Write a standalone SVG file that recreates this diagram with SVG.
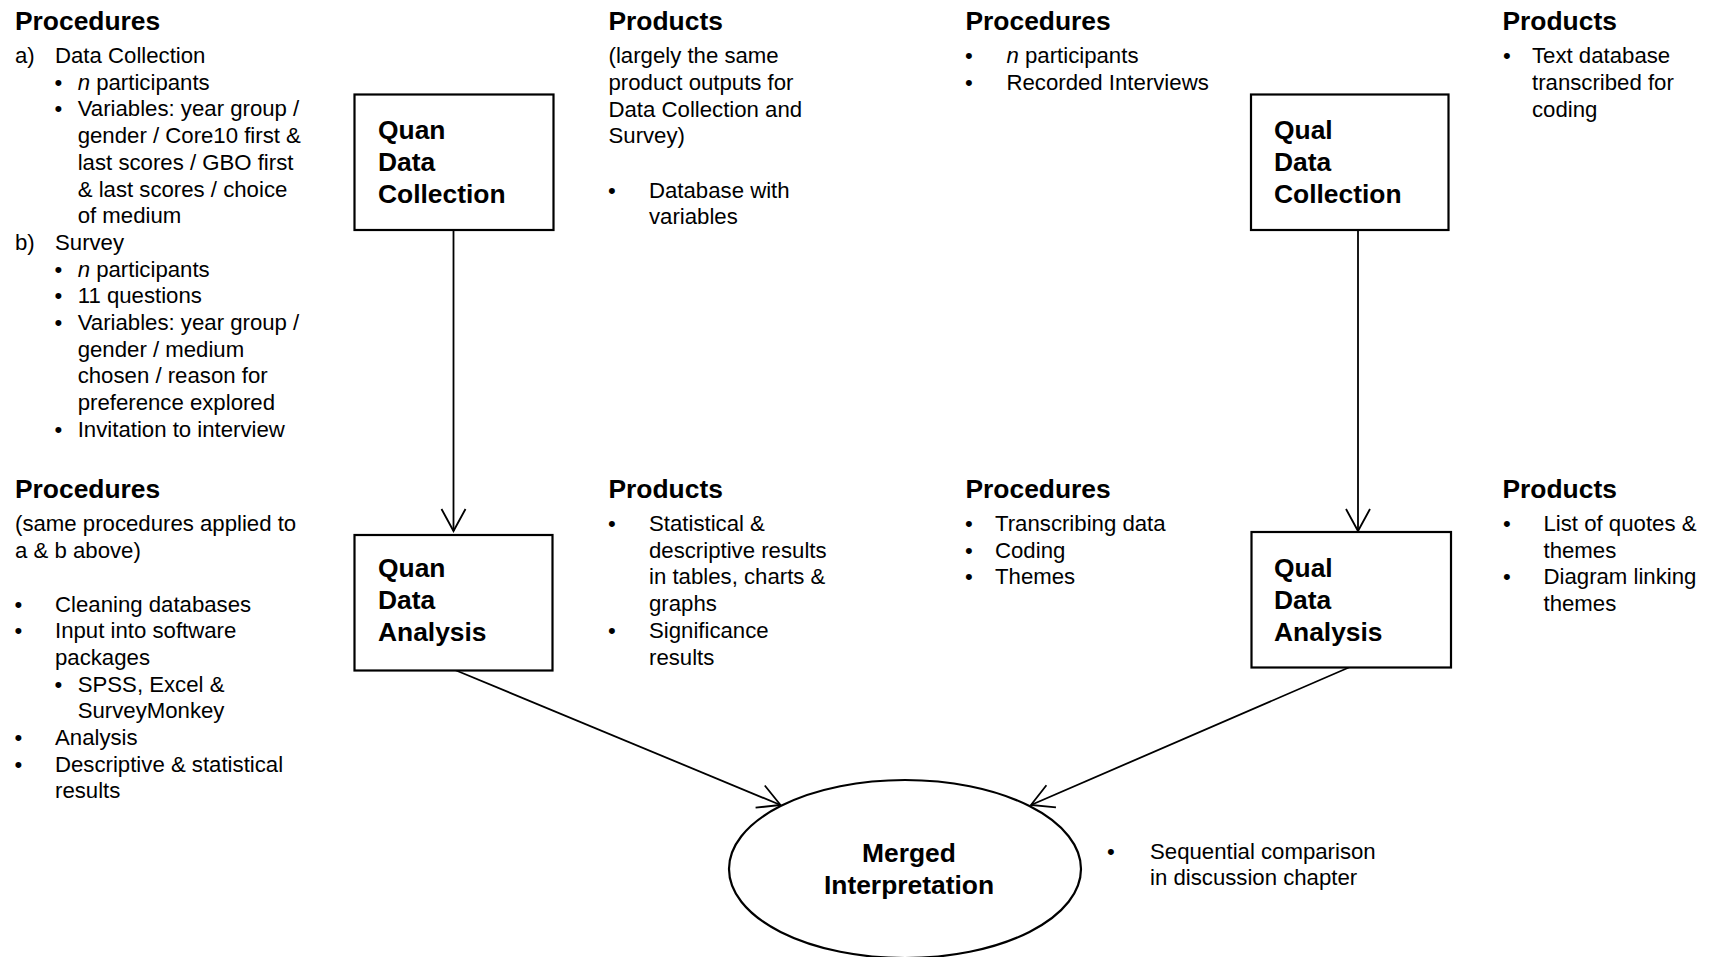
<svg xmlns="http://www.w3.org/2000/svg" width="1709" height="957" viewBox="0 0 1709 957">
<defs>
<style>
text{font-family:"Liberation Sans",Arial,sans-serif;fill:#000}
.h{font-size:26.4px;font-weight:bold}
.t{font-size:22.2px}
.b{font-size:22.2px;text-anchor:middle}
.lbl{font-size:26.4px;font-weight:bold}
.box{fill:#fff;stroke:#000;stroke-width:2.2}
.conn{stroke:#000;stroke-width:1.8;fill:none}
</style>
<marker id="arr" markerUnits="userSpaceOnUse" viewBox="-26 -15 30 30" markerWidth="30" markerHeight="30" refX="0" refY="0" orient="auto" overflow="visible">
<path d="M-22,-12 L0,0 L-22,12" fill="none" stroke="#000" stroke-width="1.8"/>
</marker>
</defs>
<rect width="1709" height="957" fill="#fff"/>

<g id="connectors">
<line class="conn" x1="453.5" y1="230" x2="453.5" y2="531" marker-end="url(#arr)"/>
<line class="conn" x1="1358" y1="230" x2="1358" y2="531" marker-end="url(#arr)"/>
<line class="conn" x1="455" y1="670" x2="780.5" y2="805" marker-end="url(#arr)"/>
<line class="conn" x1="1350" y1="667" x2="1031" y2="805" marker-end="url(#arr)"/>
</g>

<g id="quan-collection">
<rect class="box" x="354.5" y="94.5" width="199" height="135.5"/>
<text class="lbl" x="378" y="138.5">Quan</text>
<text class="lbl" x="378" y="170.5">Data</text>
<text class="lbl" x="378" y="202.5">Collection</text>
</g>
<g id="quan-analysis">
<rect class="box" x="354.5" y="535" width="198" height="135.5"/>
<text class="lbl" x="378" y="576.5">Quan</text>
<text class="lbl" x="378" y="608.5">Data</text>
<text class="lbl" x="378" y="640.5">Analysis</text>
</g>
<g id="qual-collection">
<rect class="box" x="1251" y="94.5" width="197.5" height="135.5"/>
<text class="lbl" x="1274" y="138.5">Qual</text>
<text class="lbl" x="1274" y="170.5">Data</text>
<text class="lbl" x="1274" y="202.5">Collection</text>
</g>
<g id="qual-analysis">
<rect class="box" x="1251.5" y="532" width="199.5" height="135.5"/>
<text class="lbl" x="1274" y="576.5">Qual</text>
<text class="lbl" x="1274" y="608.5">Data</text>
<text class="lbl" x="1274" y="640.5">Analysis</text>
</g>
<g id="merged">
<ellipse class="box" cx="905" cy="869" rx="176" ry="89"/>
<text class="lbl" x="909" y="862" text-anchor="middle">Merged</text>
<text class="lbl" x="909" y="894" text-anchor="middle">Interpretation</text>
</g>

<g id="quan-collection-procedures">
<text class="h" x="15" y="30">Procedures</text>
<text class="t" x="15" y="63">a)</text>
<text class="t" x="55" y="63">Data Collection</text>
<text class="b" x="58.5" y="89.7">•</text>
<text class="t" x="77.7" y="89.7"><tspan font-style="italic">n</tspan> participants</text>
<text class="b" x="58.5" y="116.4">•</text>
<text class="t" x="77.7" y="116.4">Variables: year group  /</text>
<text class="t" x="77.7" y="143.1">gender / Core10 first &amp;</text>
<text class="t" x="77.7" y="169.8">last scores / GBO first</text>
<text class="t" x="77.7" y="196.5">&amp; last scores / choice</text>
<text class="t" x="77.7" y="223.2">of medium</text>
<text class="t" x="15" y="249.9">b)</text>
<text class="t" x="55" y="249.9">Survey</text>
<text class="b" x="58.5" y="276.6">•</text>
<text class="t" x="77.7" y="276.6"><tspan font-style="italic">n</tspan> participants</text>
<text class="b" x="58.5" y="303.3">•</text>
<text class="t" x="77.7" y="303.3">11 questions</text>
<text class="b" x="58.5" y="330">•</text>
<text class="t" x="77.7" y="330">Variables: year group  /</text>
<text class="t" x="77.7" y="356.7">gender / medium</text>
<text class="t" x="77.7" y="383.4">chosen / reason for</text>
<text class="t" x="77.7" y="410.1">preference explored</text>
<text class="b" x="58.5" y="436.8">•</text>
<text class="t" x="77.7" y="436.8">Invitation to interview</text>
</g>

<g id="quan-collection-products">
<text class="h" x="608.5" y="30">Products</text>
<text class="t" x="608.5" y="63.3">(largely the same</text>
<text class="t" x="608.5" y="90">product outputs for</text>
<text class="t" x="608.5" y="116.7">Data Collection and</text>
<text class="t" x="608.5" y="143.4">Survey)</text>
<text class="b" x="612" y="197.5">•</text>
<text class="t" x="649" y="197.5">Database with</text>
<text class="t" x="649" y="224.2">variables</text>
</g>

<g id="qual-collection-procedures">
<text class="h" x="965.5" y="30">Procedures</text>
<text class="b" x="969" y="63.3">•</text>
<text class="t" x="1006.5" y="63.3"><tspan font-style="italic">n</tspan> participants</text>
<text class="b" x="969" y="90">•</text>
<text class="t" x="1006.5" y="90">Recorded Interviews</text>
</g>

<g id="qual-collection-products">
<text class="h" x="1502.5" y="30">Products</text>
<text class="b" x="1507" y="63.3">•</text>
<text class="t" x="1532" y="63.3">Text database</text>
<text class="t" x="1532" y="90">transcribed for</text>
<text class="t" x="1532" y="116.7">coding</text>
</g>

<g id="quan-analysis-procedures">
<text class="h" x="15" y="497.5">Procedures</text>
<text class="t" x="15" y="531">(same procedures applied to</text>
<text class="t" x="15" y="557.7">a &amp; b above)</text>
<text class="b" x="18.5" y="611.5">•</text>
<text class="t" x="55" y="611.5">Cleaning databases</text>
<text class="b" x="18.5" y="638.2">•</text>
<text class="t" x="55" y="638.2">Input into software</text>
<text class="t" x="55" y="664.9">packages</text>
<text class="b" x="58.5" y="691.6">•</text>
<text class="t" x="77.7" y="691.6">SPSS, Excel &amp;</text>
<text class="t" x="77.7" y="718.3">SurveyMonkey</text>
<text class="b" x="18.5" y="745">•</text>
<text class="t" x="55" y="745">Analysis</text>
<text class="b" x="18.5" y="771.7">•</text>
<text class="t" x="55" y="771.7">Descriptive &amp; statistical</text>
<text class="t" x="55" y="798.4">results</text>
</g>

<g id="quan-analysis-products">
<text class="h" x="608.5" y="497.5">Products</text>
<text class="b" x="612" y="531">•</text>
<text class="t" x="649" y="531">Statistical &amp;</text>
<text class="t" x="649" y="557.7">descriptive results</text>
<text class="t" x="649" y="584.4">in tables, charts &amp;</text>
<text class="t" x="649" y="611.1">graphs</text>
<text class="b" x="612" y="637.8">•</text>
<text class="t" x="649" y="637.8">Significance</text>
<text class="t" x="649" y="664.5">results</text>
</g>

<g id="qual-analysis-procedures">
<text class="h" x="965.5" y="497.5">Procedures</text>
<text class="b" x="969" y="531">•</text>
<text class="t" x="995" y="531">Transcribing data</text>
<text class="b" x="969" y="557.7">•</text>
<text class="t" x="995" y="557.7">Coding</text>
<text class="b" x="969" y="584.4">•</text>
<text class="t" x="995" y="584.4">Themes</text>
</g>

<g id="qual-analysis-products">
<text class="h" x="1502.5" y="497.5">Products</text>
<text class="b" x="1507" y="531">•</text>
<text class="t" x="1543.5" y="531">List of quotes &amp;</text>
<text class="t" x="1543.5" y="557.7">themes</text>
<text class="b" x="1507" y="584.4">•</text>
<text class="t" x="1543.5" y="584.4">Diagram linking</text>
<text class="t" x="1543.5" y="611.1">themes</text>
</g>

<g id="merged-products">
<text class="b" x="1111" y="858.5">•</text>
<text class="t" x="1150" y="858.5">Sequential comparison</text>
<text class="t" x="1150" y="885.2">in discussion chapter</text>
</g>
</svg>
